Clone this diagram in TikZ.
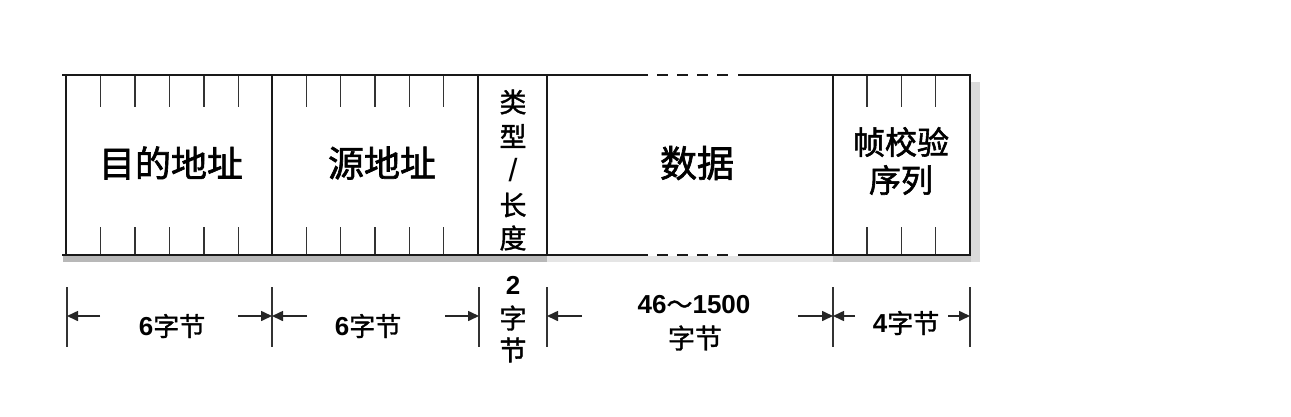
\documentclass[tikz,border=0pt]{standalone}
\usepackage{fontspec}
\setmainfont{Liberation Sans}
\newfontfamily\cjk{Noto Sans CJK SC}[FakeBold=1.8]
\newfontfamily\cjkl{Noto Sans CJK SC}[FakeBold=1.4]
\usetikzlibrary{arrows.meta}
\begin{document}
\begin{tikzpicture}[x=1pt,y=-1pt,
  frame/.style={line width=2.8pt, black!90},
  tick/.style={line width=1.5pt, black!80},
  dimline/.style={line width=1.5pt, black!80},
  dimarrow/.style={line width=1.6pt, black!85, -{Triangle[length=11pt,width=10pt]}},
  boxlabel/.style={inner sep=0pt, font=\fontsize{36}{38}\selectfont\cjk},
  vlabel/.style={inner sep=0pt, font=\fontsize{27}{30}\selectfont\cjkl},
  dimlabel/.style={inner sep=0pt, font=\fontsize{26}{30}\selectfont\bfseries},
]
\useasboundingbox (0,0) rectangle (1291,416);
% shadow
\fill[black!28] (63,255) rectangle (547,262);
\fill[black!10] (547,256) rectangle (833,262);
\fill[black!22] (833,255) rectangle (980,262);
\fill[black!14] (971,82) rectangle (980,262);
\fill[white] (66,76) rectangle (970,254);
% frame
\draw[frame] (738,75) -- (970,75) -- (970,255) -- (738,255);
\draw[frame] (648,75) -- (62,75);
\draw[frame] (648,255) -- (62,255);
\foreach \a in {657,677,697,717}{
  \draw[frame] (\a,75) -- ++(11,0);
  \draw[frame] (\a,255) -- ++(11,0);
}
\foreach \x in {66,272,478,547,833}{
  \draw[frame] (\x,75) -- (\x,255);
}
% ticks
\foreach \x in {100.5,135,169.5,204,238.5,306.3,340.7,375,409.3,443.7,867.2,901.5,935.7}{
  \draw[tick] (\x,76) -- (\x,107);
  \draw[tick] (\x,227) -- (\x,254);
}
% field labels
\node[boxlabel] (dst) at (171,163) {目的地址};
\node[boxlabel] (src) at (382,163) {源地址};
\node[boxlabel, font=\fontsize{37}{38}\selectfont\cjk] (data) at (697,163) {数据};
\node[boxlabel, font=\fontsize{32}{36}\selectfont\cjk] (fcs1) at (901,142) {帧校验};
\node[boxlabel, font=\fontsize{32}{36}\selectfont\cjk] (fcs2) at (901,180) {序列};
\node[vlabel] (t1) at (513,102) {类};
\node[vlabel] (t2) at (513,136) {型};
\node[vlabel, font=\fontsize{32}{30}\selectfont] (t3) at (513,170) {/};
\node[vlabel] (t4) at (513,205) {长};
\node[vlabel] (t5) at (513,238) {度};
% dimension boundaries
\foreach \n/\x in {d0/67,d1/272,d2/479,d3/547,d4/833,d5/970}{
  \coordinate (\n t) at (\x,287);
  \coordinate (\n b) at (\x,347);
  \coordinate (\n m) at (\x,316);
  \draw[dimline] (\n t) -- (\n b);
}
\coordinate (a1) at (100,316);
\coordinate (a2) at (238,316);
\coordinate (a3) at (307,316);
\coordinate (a4) at (445,316);
\coordinate (a5) at (582,316);
\coordinate (a6) at (798,316);
\coordinate (a7) at (855,316);
\coordinate (a8) at (948,316);
\draw[dimarrow] (a1) -- (d0m);
\draw[dimarrow] (a2) -- (d1m);
\draw[dimarrow] (a3) -- (d1m);
\draw[dimarrow] (a4) -- (d2m);
\draw[dimarrow] (a5) -- (d3m);
\draw[dimarrow] (a6) -- (d4m);
\draw[dimarrow] (a7) -- (d4m);
\draw[dimarrow] (a8) -- (d5m);
% dimension labels
\node[dimlabel] (l1) at (172,326) {6{\mdseries\cjkl 字节}};
\node[dimlabel] (l2) at (368,326) {6{\mdseries\cjkl 字节}};
\node[dimlabel] (l3a) at (513,285) {2};
\node[vlabel] (l3b) at (513,318) {字};
\node[vlabel] (l3c) at (513,350) {节};
\node[dimlabel] (l4a) at (694,305) {46{\mdseries\cjkl ～}1500};
\node[vlabel] (l4b) at (695,338) {字节};
\node[dimlabel] (l5) at (906,323) {4{\mdseries\cjkl 字节}};
\end{tikzpicture}
\end{document}
